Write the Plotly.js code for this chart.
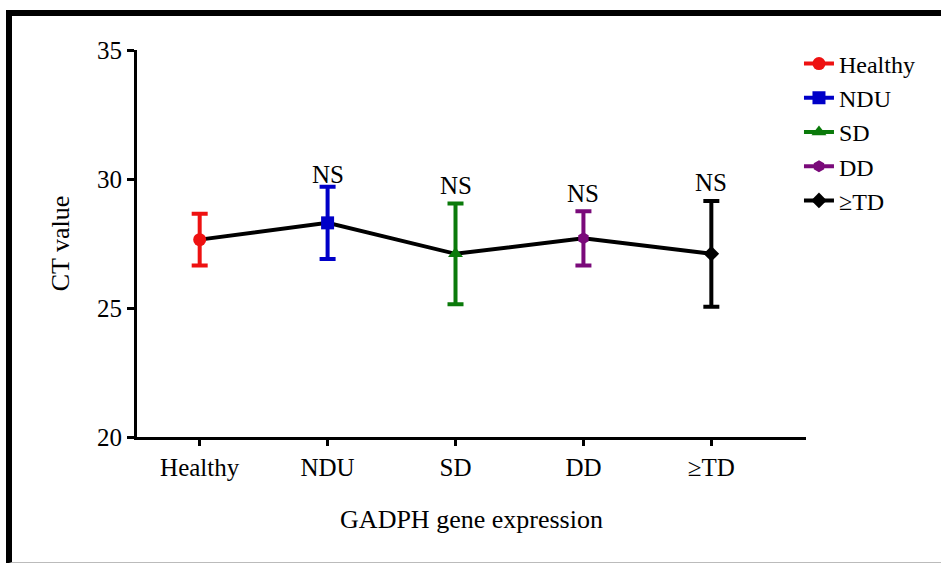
<!DOCTYPE html>
<html>
<head>
<meta charset="utf-8">
<script src="https://cdn.plot.ly/plotly-3.0.1.min.js"></script>
<style>
  html, body { margin: 0; padding: 0; background: #fff; }
  #wrap { position: relative; width: 941px; height: 563px; overflow: hidden; }
  #frame { position: absolute; left: 6px; top: 10px; width: 940px; height: 546px;
           border-top: 6px solid #000; border-left: 6px solid #000; border-bottom: 2px solid #bbb; }
  #chart { position: absolute; left: 0; top: 0; width: 941px; height: 563px; }
</style>
</head>
<body>
<div id="wrap">
  <div id="frame"></div>
  <div id="chart"></div>
</div>
<script>
const categories = ["Healthy", "NDU", "SD", "DD", "≥TD"];
const means = [27.65, 28.3, 27.1, 27.7, 27.1];
const errors = [1.0, 1.4, 1.95, 1.05, 2.05];
const labels = ["", "NS", "NS", "NS", "NS"];
const labelShift = [0, -3, 3, 2, 3];
const colors = ["#ee1111", "#0000c8", "#0a7a0a", "#7a0a7a", "#000000"];
const symbols = ["circle", "square", "triangle-up", "hexagon", "diamond"];
const markerSizes = [13, 13, 13, 12, 12];

const font = "Liberation Serif, Times New Roman, serif";

const traces = [{
  x: categories, y: means, mode: "lines", type: "scatter",
  line: {color: "#000", width: 4}, showlegend: false, hoverinfo: "skip"
}];
categories.forEach((c, i) => {
  traces.push({
    x: [c], y: [means[i]], name: c, type: "scatter", mode: "lines+markers",
    line: {color: colors[i], width: 4},
    marker: {color: colors[i], symbol: symbols[i], size: markerSizes[i]},
    error_y: {type: "data", array: [errors[i]], visible: true, color: colors[i], thickness: 4, width: 8},
    legendgroup: "g" + i
  });
});

const annotations = categories.map((c, i) => ({
  x: c, y: means[i] + errors[i], xref: "x", yref: "y",
  text: labels[i], showarrow: false, yanchor: "bottom", yshift: labelShift[i],
  font: {family: font, size: 25, color: "#000"}
})).filter(a => a.text);

const layout = {
  width: 941, height: 563,
  margin: {l: 137, r: 135, t: 50, b: 126},
  paper_bgcolor: "rgba(0,0,0,0)", plot_bgcolor: "rgba(0,0,0,0)",
  font: {family: font, color: "#000"},
  xaxis: {
    type: "category", range: [-0.49, 4.74],
    showline: true, linecolor: "#000", linewidth: 3,
    ticks: "outside", ticklen: 6, tickwidth: 3, tickcolor: "#000",
    showgrid: false, zeroline: false,
    tickfont: {family: font, size: 25},
    title: {text: "GADPH gene expression", font: {family: font, size: 26}, standoff: 30}
  },
  yaxis: {
    range: [20, 35], tickvals: [20, 25, 30, 35],
    showline: true, linecolor: "#000", linewidth: 3,
    ticks: "outside", ticklen: 7, tickwidth: 3, tickcolor: "#000",
    showgrid: false, zeroline: false,
    tickfont: {family: font, size: 25},
    title: {text: "CT value", font: {family: font, size: 26}, standoff: 20}
  },
  legend: {
    x: 0.9895, xanchor: "left", y: 1.022, yanchor: "top",
    font: {family: font, size: 24}, traceorder: "normal",
    bgcolor: "rgba(0,0,0,0)"
  },
  annotations: annotations
};

Plotly.newPlot("chart", traces, layout, {staticPlot: true, displayModeBar: false});
</script>
</body>
</html>
